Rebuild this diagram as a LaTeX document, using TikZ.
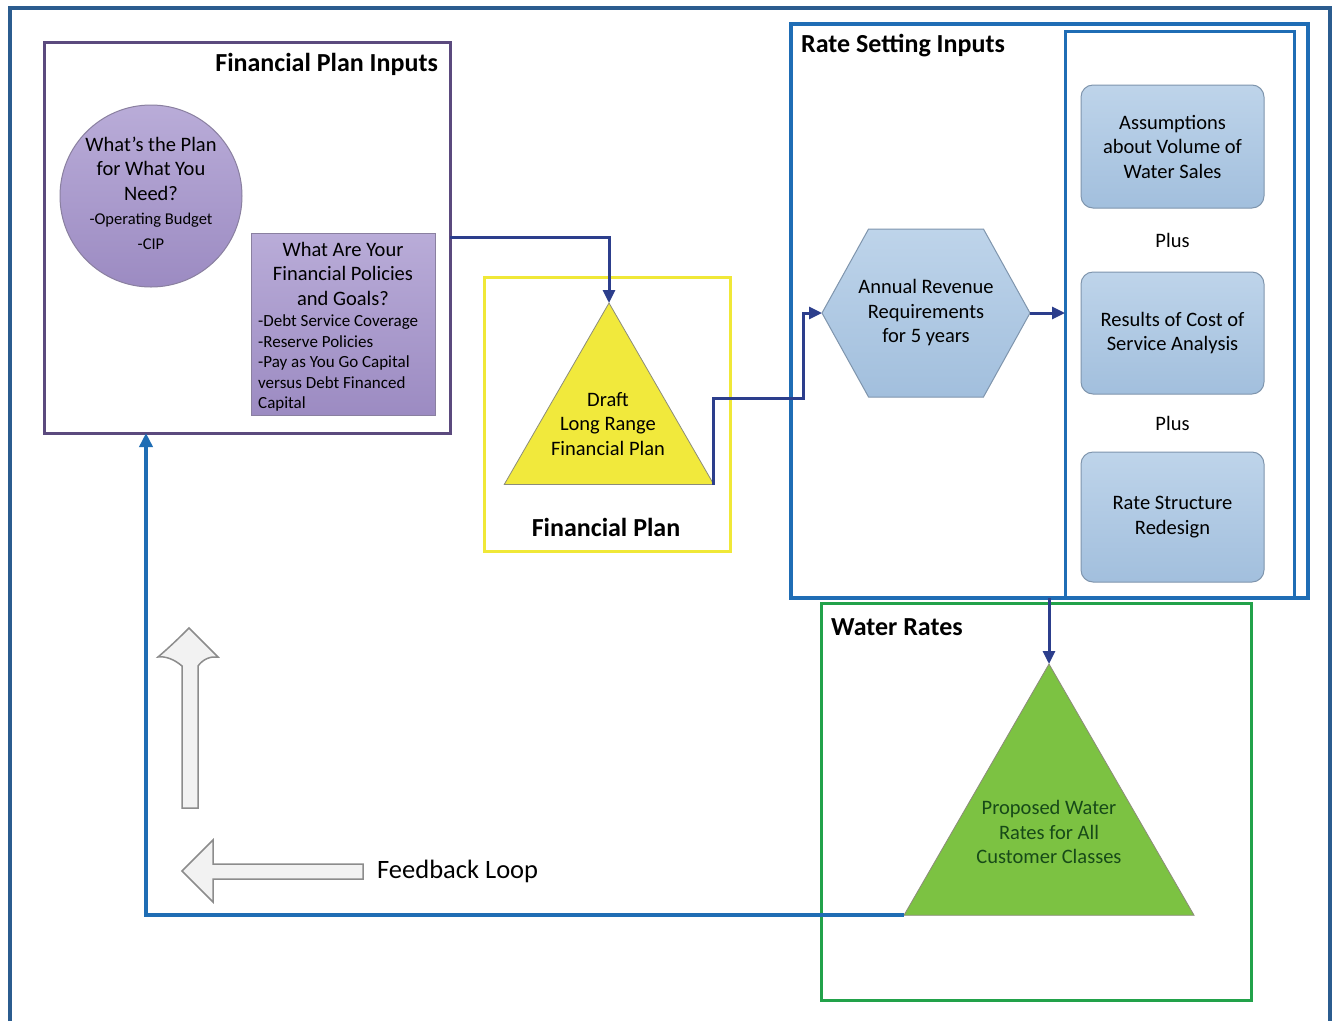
\documentclass[tikz,border=0pt]{standalone}
\usepackage{fontspec}
\setmainfont{Carlito}
\usetikzlibrary{positioning,calc,shapes.geometric,shapes.symbols,arrows.meta}
\definecolor{framecol}{HTML}{2B5C8F}
\definecolor{inputcol}{HTML}{5B4A7E}
\definecolor{plancol}{HTML}{F0E838}
\definecolor{setcol}{HTML}{1F6DB5}
\definecolor{ratecol}{HTML}{22A24A}
\definecolor{navy}{HTML}{2C3E8C}
\definecolor{fbcol}{HTML}{1F6DB4}
\definecolor{purptop}{HTML}{B9ACD8}
\definecolor{purpbot}{HTML}{9C8BC2}
\definecolor{purpedge}{HTML}{8A80A0}
\definecolor{paletop}{HTML}{BED4EA}
\definecolor{palebot}{HTML}{A2BFDD}
\definecolor{paleedge}{HTML}{7F95AD}
\definecolor{yellowfill}{HTML}{F1E93C}
\definecolor{greenfill}{HTML}{7CC242}
\definecolor{greentext}{HTML}{174A18}
\definecolor{triedge}{HTML}{8C8C7A}
\definecolor{hollowfill}{HTML}{F2F2F2}
\definecolor{hollowedge}{HTML}{8C8C8C}

\begin{document}
\begin{tikzpicture}[x=1pt, y=-1pt,
  grp/.style={draw, line width=3pt, outer sep=0pt, inner sep=0pt},
  ttl/.style={font=\bfseries\fontsize{26}{30}\selectfont, inner sep=0pt},
  txt/.style={font=\fontsize{20.5}{24.5}\selectfont, align=center, inner sep=0pt},
  sml/.style={font=\fontsize{17}{20.5}\selectfont, align=left, inner sep=0pt},
  purp/.style={draw=purpedge, line width=1pt, top color=purptop, bottom color=purpbot, outer sep=0pt},
  pale/.style={draw=paleedge, line width=1pt, rounded corners=12pt, top color=paletop, bottom color=palebot, minimum width=183pt, outer sep=0pt},
  tri/.style={regular polygon, regular polygon sides=3, draw=triedge, line width=0.8pt, inner sep=0pt, outer sep=0pt},
  flow/.style={draw=navy, line width=3pt, -{Triangle[length=13pt,width=12pt]}},
  feedback/.style={draw=fbcol, line width=4pt, -{Triangle[length=14pt,width=13pt]}},
  hollow/.style={draw=hollowedge, line width=1.5pt, fill=hollowfill}]
\useasboundingbox (0,0) rectangle (1336,1021);
\fill[white] (0,0) rectangle (1336,1021);
\draw[framecol, line width=4pt] (10,1021) -- (10,8) -- (1330,8) -- (1330,1021);

% financial plan inputs
\node[grp, draw=inputcol, minimum width=406pt, minimum height=391pt] (inputs) at (247,237.5) {};
\node[ttl, anchor=east] (inputsttl) at (438,64) {Financial Plan Inputs};
\node[circle, purp, minimum size=182pt, inner sep=0pt] (plan) at (151,196) {};
\node[txt] (plantxt) at (151,193) {What's the Plan\\for What You\\Need?\\{\fontsize{16.5}{22}\selectfont -Operating Budget}\\{\fontsize{16.5}{22}\selectfont -CIP}};
\node[purp, minimum width=184pt, minimum height=182pt, inner sep=0pt] (policies) at (343,324) {};
\node[txt, below=9pt of policies.north] (policieshead) {What Are Your\\Financial Policies\\and Goals?};
\node[sml, anchor=north west] (policieslist) at ([xshift=7pt,yshift=-9pt]policies.west |- policieshead.south) {-Debt Service Coverage\\-Reserve Policies\\-Pay as You Go Capital\\versus Debt Financed\\Capital};

% financial plan
\node[grp, draw=plancol, minimum width=246pt, minimum height=274pt] (planbox) at (607,414) {};
\node[tri, fill=yellowfill, minimum size=242pt] (draft) at (609,424) {};
\node[txt] (drafttxt) at (608,424) {Draft\\Long Range\\Financial Plan};
\node[ttl] (planttl) at (606,527) {Financial Plan};

% rate setting inputs
\node[grp, draw=setcol, line width=4pt, minimum width=517pt, minimum height=574pt] (setting) at (1049.5,311) {};
\node[grp, draw=setcol, minimum width=229pt, minimum height=567pt] (menu) at (1179.5,314.5) {};
\node[ttl, anchor=west] (settingttl) at (801,46) {Rate Setting Inputs};
\node[signal, signal to=west and east, signal pointer angle=122, draw=paleedge, line width=1pt, top color=paletop, bottom color=palebot, minimum width=208pt, minimum height=168pt, inner sep=0pt, outer sep=0pt] (revenue) at (926,313) {};
\node[txt] (revenuetxt) at (revenue.center) {Annual Revenue\\Requirements\\for 5 years};
\node[pale, minimum height=123pt, txt] (assumptions) at (1172.5,146.5) {Assumptions\\about Volume of\\Water Sales};
\node[pale, minimum height=122pt, txt, below=64pt of assumptions] (results) {Results of Cost of\\Service Analysis};
\node[pale, minimum height=130pt, txt, below=58pt of results] (redesign) {Rate Structure\\Redesign};
\node[txt] (plus1) at ($(assumptions.south)!.5!(results.north)$) {Plus};
\node[txt] (plus2) at ($(results.south)!.5!(redesign.north)$) {Plus};

% water rates
\node[grp, draw=ratecol, minimum width=430pt, minimum height=397pt] (rates) at (1036,801.5) {};
\node[ttl, anchor=west] (ratesttl) at (831,627) {Water Rates};
\node[tri, fill=greenfill, minimum size=335pt] (proposed) at (1049,831.5) {};
\node[txt, text=greentext] (proposedtxt) at (1049,832) {Proposed Water\\Rates for All\\Customer Classes};

% connectors
\coordinate (bend) at (803,398);
\draw[flow] ([yshift=-4pt]inputs.east |- policies.north) -| (draft.corner 1);
\draw[flow] (draft.corner 3) |- (bend) |- (revenue.west);
\draw[flow] (revenue.east) -- (revenue.east -| menu.west);
\draw[flow] (proposed.corner 1 |- setting.south) -- (proposed.corner 1);
\draw[feedback] (proposed.corner 2) -| ([xshift=102pt]inputs.south west);

% feedback loop arrows
\draw[hollow] (182,808) -- (182,666) .. controls (174,659) and (165,656) .. (158,657) .. controls (172,645) and (182,635) .. (189,628) .. controls (196,635) and (206,645) .. (218,657) .. controls (211,656) and (203,659) .. (198,666) -- (198,808) -- cycle;
\draw[hollow] (363,864) -- (213,864) -- (213,840) -- (182,871) -- (213,902) -- (213,879) -- (363,879) -- cycle;
\node[font=\fontsize{26.5}{30}\selectfont, anchor=west, inner sep=0pt] (loop) at (377,871) {Feedback Loop};
\end{tikzpicture}
\end{document}
